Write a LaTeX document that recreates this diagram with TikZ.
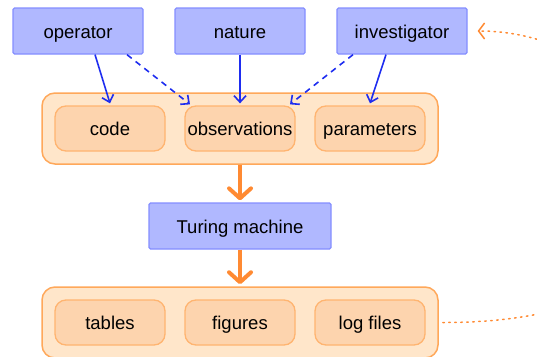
\documentclass[tikz,border=0pt]{standalone}
\usepackage{fontspec}
\setmainfont{Liberation Sans}
\usetikzlibrary{arrows.meta,calc}
\definecolor{bluefill}{RGB}{176,184,255}
\definecolor{blueline}{RGB}{132,142,255}
\definecolor{bluearrow}{RGB}{30,45,240}
\definecolor{contfill}{RGB}{255,230,202}
\definecolor{contline}{RGB}{255,168,90}
\definecolor{innerfill}{RGB}{253,212,174}
\definecolor{innerline}{RGB}{255,180,112}
\definecolor{orangearrow}{RGB}{255,138,50}
\tikzset{
  x=1pt, y=-1pt,
  every node/.style={font=\fontsize{18.5}{20}\selectfont, text=black, text height=16pt, text depth=1.5pt},
  bluebox/.style={draw=blueline, fill=bluefill, line width=1.3pt, rounded corners=1.5pt,
    minimum width=130pt, minimum height=46pt, inner sep=0pt},
  container/.style={draw=contline, fill=contfill, line width=1.5pt, rounded corners=13pt,
    minimum width=396pt, minimum height=71pt, inner sep=0pt},
  innerbox/.style={draw=innerline, fill=innerfill, line width=1.3pt, rounded corners=11pt,
    minimum width=110pt, minimum height=45pt, inner sep=0pt},
  bluearr/.style={draw=bluearrow, line width=1.6pt, -{Straight Barb[length=6.5pt,width=12pt,line width=1.6pt]}},
  bluedash/.style={bluearr, dash pattern=on 6pt off 5pt},
  bigarr/.style={draw=orangearrow, line width=4pt, -{Straight Barb[length=10pt,width=22pt,line width=4pt,round]}},
  dotarr/.style={draw=orangearrow, line width=1.5pt, dash pattern=on 1.5pt off 4.5pt, line cap=round,
    -{Straight Barb[length=6pt,width=16pt,line width=1.5pt]}},
}
\begin{document}
\begin{tikzpicture}
\useasboundingbox (0,0) rectangle (537,356);
\clip (0,0) rectangle (537,356);

\node[bluebox] (op) at (78,31) {operator};
\node[bluebox] (nat) at (240,31) {nature};
\node[bluebox] (inv) at (402,31) {investigator};

\node[container] (top) at (240,128.5) {};
\node[innerbox] (code) at (110,128.5) {code};
\node[innerbox] (obs) at (240,128.5) {observations};
\node[innerbox] (par) at (370,128.5) {parameters};

\node[bluebox, minimum width=182pt] (tm) at (240,226) {Turing machine};

\node[container] (bot) at (240,322.5) {};
\node[innerbox] (tab) at (110,322.5) {tables};
\node[innerbox] (fig) at (240,322.5) {figures};
\node[innerbox] (log) at (370,322.5) {log files};

\draw[bluearr] ([xshift=17pt]op.south) -- ([yshift=2pt]code.north);
\draw[bluedash] ([xshift=49pt]op.south) -- ([xshift=-50pt,yshift=1pt]obs.north);
\draw[bluearr] (nat.south) -- ([yshift=2pt]obs.north);
\draw[bluedash] ([xshift=-49pt]inv.south) -- ([xshift=50pt,yshift=1pt]obs.north);
\draw[bluearr] ([xshift=-16pt]inv.south) -- ([yshift=2pt]par.north);

\draw[bigarr] (top.south) -- ([yshift=2pt]tm.north);
\draw[bigarr] (tm.south) -- ([yshift=2pt]bot.north);

\coordinate (s) at ([xshift=4pt]bot.east);
\coordinate (e) at ([xshift=10pt]inv.east);
\coordinate (c1) at (800,323);
\coordinate (c2) at (680,31);
\draw[dotarr] (s) .. controls (c1) and (c2) .. (e);
\end{tikzpicture}
\end{document}
